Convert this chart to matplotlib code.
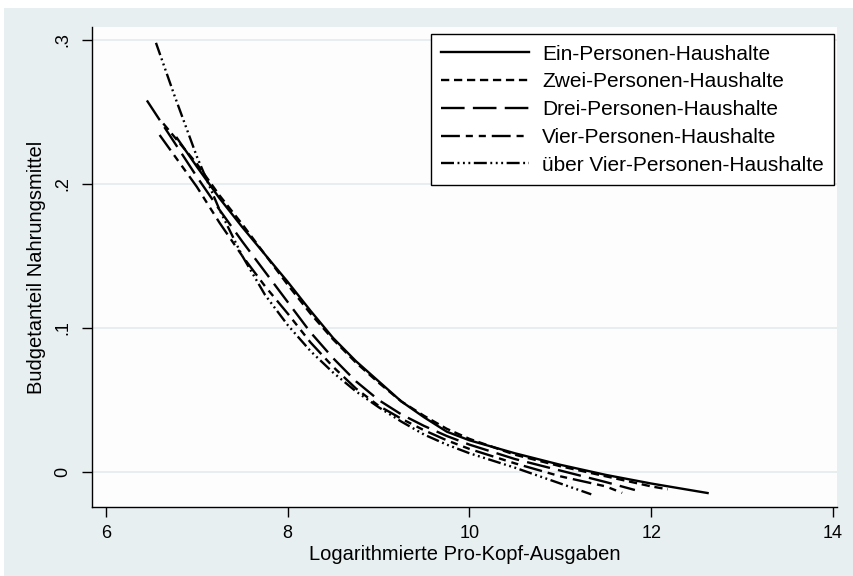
import numpy as np
import matplotlib.pyplot as plt
from matplotlib.patches import Rectangle

# Engel curves: budget share of food vs log per-capita expenditure
ein_x = [6.78, 7.0, 7.25, 7.5, 7.75, 8.0, 8.25, 8.5, 8.75, 9.0, 9.25, 9.5, 9.75,
         10.0, 10.5, 11.0, 11.5, 12.0, 12.62]
ein_y = [0.232, 0.212, 0.190, 0.170, 0.151, 0.132, 0.112, 0.093, 0.077, 0.063,
         0.049, 0.038, 0.028, 0.022, 0.013, 0.005, -0.002, -0.008, -0.0146]

zwei_x = [6.63, 7.0, 7.25, 7.5, 7.75, 8.0, 8.25, 8.5, 8.75, 9.0, 9.25, 9.5, 9.75,
          10.0, 10.5, 11.0, 11.5, 12.0, 12.18]
zwei_y = [0.242, 0.214, 0.192, 0.172, 0.151, 0.130, 0.110, 0.092, 0.076, 0.062,
          0.049, 0.039, 0.030, 0.023, 0.012, 0.004, -0.003, -0.010, -0.012]

drei_x = [6.45, 7.0, 7.25, 7.5, 7.75, 8.0, 8.25, 8.5, 8.75, 9.0, 9.25, 9.5, 9.75,
          10.0, 10.5, 11.0, 11.5, 11.82]
drei_y = [0.258, 0.205, 0.182, 0.160, 0.139, 0.118, 0.097, 0.079, 0.063, 0.050,
          0.040, 0.032, 0.025, 0.019, 0.009, 0.001, -0.007, -0.0125]

vier_x = [6.59, 7.0, 7.25, 7.5, 7.75, 8.0, 8.25, 8.5, 8.75, 9.0, 9.25, 9.5, 9.75,
          10.0, 10.5, 11.0, 11.5, 11.68]
vier_y = [0.234, 0.198, 0.173, 0.150, 0.129, 0.110, 0.090, 0.073, 0.058, 0.046,
          0.037, 0.029, 0.022, 0.016, 0.006, -0.003, -0.010, -0.0145]

ueber_x = [6.55, 6.75, 7.0, 7.25, 7.5, 7.75, 8.0, 8.25, 8.5, 8.75, 9.0, 9.25, 9.5,
           9.75, 10.0, 10.5, 11.0, 11.34]
ueber_y = [0.298, 0.262, 0.219, 0.182, 0.150, 0.123, 0.102, 0.084, 0.069, 0.056,
           0.045, 0.035, 0.026, 0.019, 0.013, 0.003, -0.008, -0.0155]

labels = [
    "Ein-Personen-Haushalte",
    "Zwei-Personen-Haushalte",
    "Drei-Personen-Haushalte",
    "Vier-Personen-Haushalte",
    "über Vier-Personen-Haushalte",
]
x_ticks = [6, 8, 10, 12, 14]
y_ticks = [0, 0.1, 0.2, 0.3]
y_ticklabels = ["0", ".1", ".2", ".3"]

PANEL = "#e8eff1"
GRID = "#e4ecee"

plt.rcParams["font.family"] = ["Liberation Sans", "DejaVu Sans"]

fig = plt.figure(figsize=(8.54, 5.76), dpi=100, facecolor="white")
fig.patches.append(
    Rectangle((4 / 854, 0), 1, 1 - 8 / 576, transform=fig.transFigure,
              facecolor=PANEL, edgecolor="none", zorder=-5)
)
ax = fig.add_axes([92 / 854, 1 - 507 / 576, 745 / 854, 480 / 576])
ax.set_zorder(2)
ax.set_facecolor("#fdfdfd")

styles = [
    dict(linestyle="-"),
    dict(linestyle=(0, (3.5, 2))),
    dict(linestyle=(0, (10, 3.5))),
    dict(linestyle=(0, (8, 2.5, 3, 2.5, 3, 2.5))),
    dict(linestyle=(0, (5.5, 1.5, 0.8, 1.5, 0.8, 1.5, 0.8, 1.5))),
]
series = [(ein_x, ein_y), (zwei_x, zwei_y), (drei_x, drei_y),
          (vier_x, vier_y), (ueber_x, ueber_y)]
for (xs, ys), st, lab in zip(series, styles, labels):
    ax.plot(xs, ys, color="black", linewidth=1.7, label=lab, **st)

ax.set_xlim(5.846, 14.044)
ax.set_ylim(-0.0243, 0.309)
ax.set_xticks(x_ticks)
ax.set_yticks(y_ticks)
ax.set_yticklabels(y_ticklabels, rotation=90, va="center")
ax.grid(axis="y", color=GRID, linewidth=1.2)
ax.set_axisbelow(True)

for side in ["top", "right"]:
    ax.spines[side].set_visible(False)
for side in ["left", "bottom"]:
    ax.spines[side].set_color("black")
    ax.spines[side].set_linewidth(1.0)
ax.tick_params(axis="both", length=7, width=1, labelsize=13, colors="black")
ax.tick_params(axis="x", pad=6)
ax.tick_params(axis="y", pad=8)

ax.set_xlabel("Logarithmierte Pro-Kopf-Ausgaben", fontsize=14.5, labelpad=2)
ax.set_ylabel("Budgetanteil Nahrungsmittel", fontsize=14.5, labelpad=6)

leg = ax.legend(
    loc="upper right", bbox_to_anchor=(0.9965, 0.985), fontsize=15,
    frameon=True, fancybox=False, edgecolor="black", framealpha=1,
    handlelength=4.2, handletextpad=0.65, labelspacing=0.42, borderpad=0.5,
    borderaxespad=0.0,
)
leg.get_frame().set_linewidth(1.0)

fig.savefig("out.png", dpi=100, facecolor=fig.get_facecolor())
